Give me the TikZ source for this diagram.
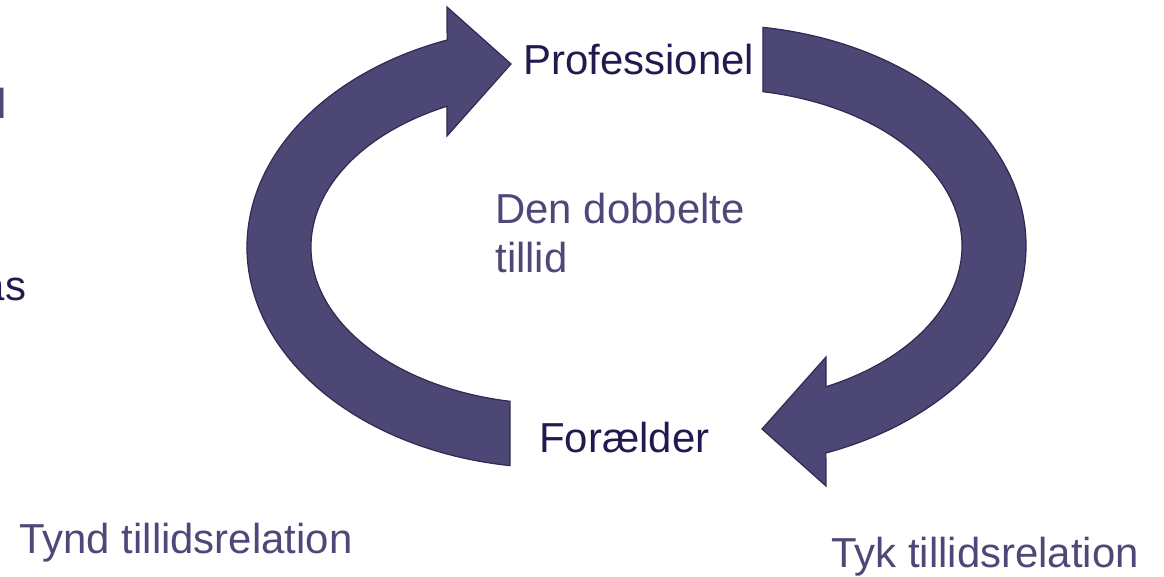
\documentclass[tikz,border=0pt]{standalone}
\usepackage{fontspec}
\setmainfont{Liberation Sans}
\definecolor{loopfill}{HTML}{4C4774}
\definecolor{loopline}{HTML}{2F2B52}
\definecolor{navytext}{HTML}{201B4F}
\definecolor{lilatext}{HTML}{4D4878}
\begin{document}
\begin{tikzpicture}[x=0.02cm,y=0.02cm,
  word/.style={anchor=base west,inner sep=0pt,font=\fontsize{23.85}{28}\selectfont},
  bigarrow/.style={fill=loopfill,draw=loopline,line width=0.7pt,line join=miter}]
\useasboundingbox (0,0) rectangle (1164,576);
\clip (0,0) rectangle (1164,576);
% the two curved arrows
\foreach \cx/\cy/\rot in {555/329/0,718/330/180}{
  \begin{scope}[shift={(\cx,\cy)},rotate=\rot]
    \draw[bigarrow] (261.6:308 and 221)
      arc[start angle=261.6,end angle=110.5,x radius=308,y radius=221]
      -- (-108,240) -- (-44,183) -- (-108,111) -- (116.3:244 and 157)
      arc[start angle=116.3,end angle=259.4,x radius=244,y radius=157] -- cycle;
  \end{scope}
}
\node[word,text=navytext] (prof) at (523,501) {Professionel};
\node[word,text=navytext] (forael) at (539,124) {Forælder};
\node[word,text=lilatext] (dobbelt) at (495,353) {Den dobbelte};
\node[word,text=lilatext] (tillid) at (495,304) {tillid};
\node[word,text=lilatext] (tynd) at (19,23) {Tynd tillidsrelation};
\node[word,text=lilatext] (tyk) at (831,9) {Tyk tillidsrelation};
% cut-off text at the left edge
\node[word,text=lilatext] (cutl) at (-2.9,458) {l};
\node[word,anchor=base east,text=navytext] (cutas) at (26.5,276) {as};
\end{tikzpicture}
\end{document}
